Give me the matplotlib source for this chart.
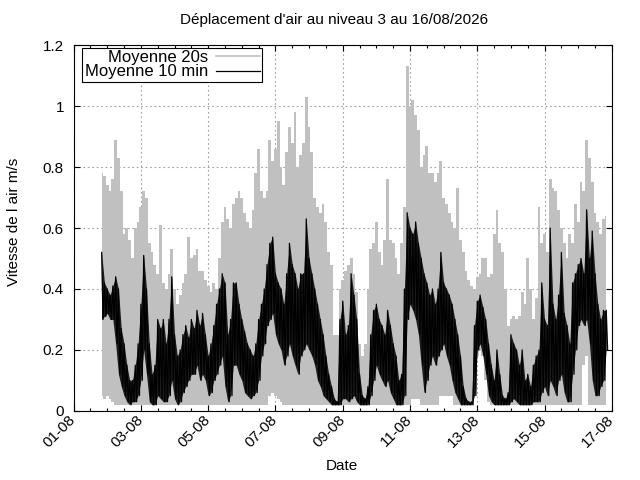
import numpy as np
import matplotlib
matplotlib.use("Agg")
import matplotlib.pyplot as plt
import matplotlib.dates as mdates
from matplotlib.ticker import FuncFormatter

# first sample and sampling step (2 hours) of the envelopes
start = np.datetime64("2026-08-01T20:00")
step = np.timedelta64(2, "h")

# "Moyenne 20s": upper / lower envelope of the grey trace, one value per 2 h
gray_hi = [
    0.78, 0.77, 0.74, 0.72, 0.76, 0.89, 0.83, 0.72, 0.58, 0.60, 0.56, 0.50,
    0.60, 0.62, 0.67, 0.72, 0.70, 0.55, 0.52, 0.48, 0.45, 0.61, 0.42, 0.40,
    0.45, 0.53, 0.40, 0.35, 0.38, 0.42, 0.45, 0.57, 0.50, 0.51, 0.53, 0.46,
    0.46, 0.43, 0.41, 0.39, 0.42, 0.40, 0.50, 0.62, 0.67, 0.63, 0.60, 0.68,
    0.70, 0.72, 0.70, 0.65, 0.62, 0.60, 0.66, 0.78, 0.86, 0.72, 0.70, 0.72,
    0.89, 0.82, 0.86, 0.95, 0.80, 0.74, 0.85, 0.93, 0.88, 0.98, 0.80, 0.84,
    0.88, 1.03, 0.93, 0.85, 0.70, 0.67, 0.65, 0.68, 0.62, 0.52, 0.48, 0.25,
    0.25, 0.40, 0.43, 0.46, 0.48, 0.50, 0.45, 0.39, 0.22, 0.18, 0.22, 0.40,
    0.53, 0.55, 0.62, 0.52, 0.48, 0.56, 0.76, 0.56, 0.55, 0.50, 0.45, 0.55,
    0.67, 1.13, 1.00, 1.02, 0.97, 0.92, 0.80, 0.84, 0.87, 0.78, 0.78, 0.75,
    0.78, 0.82, 0.70, 0.68, 0.65, 0.62, 0.60, 0.73, 0.56, 0.52, 0.46, 0.43,
    0.41, 0.40, 0.44, 0.45, 0.50, 0.50, 0.44, 0.45, 0.58, 0.66, 0.55, 0.52,
    0.40, 0.28, 0.30, 0.31, 0.30, 0.31, 0.39, 0.35, 0.50, 0.40, 0.30, 0.37,
    0.67, 0.55, 0.58, 0.52, 0.76, 0.73, 0.72, 0.66, 0.60, 0.55, 0.50, 0.58,
    0.55, 0.68, 0.62, 0.75, 0.72, 0.89, 0.83, 0.75, 0.65, 0.62, 0.58, 0.63,
    0.64,
]
gray_lo = [
    0.05, 0.04, 0.05, 0.04, 0.03, 0.02, 0.02, 0.02, 0.02, 0.02, 0.02, 0.02,
    0.02, 0.02, 0.02, 0.02, 0.02, 0.02, 0.02, 0.02, 0.02, 0.02, 0.02, 0.02,
    0.02, 0.02, 0.02, 0.02, 0.02, 0.02, 0.02, 0.02, 0.02, 0.02, 0.02, 0.02,
    0.02, 0.02, 0.02, 0.02, 0.02, 0.02, 0.02, 0.02, 0.02, 0.02, 0.02, 0.02,
    0.02, 0.02, 0.02, 0.02, 0.02, 0.02, 0.02, 0.02, 0.02, 0.02, 0.02, 0.02,
    0.05, 0.06, 0.05, 0.04, 0.03, 0.02, 0.02, 0.02, 0.02, 0.02, 0.02, 0.02,
    0.02, 0.02, 0.02, 0.02, 0.02, 0.02, 0.02, 0.02, 0.02, 0.02, 0.02, 0.02,
    0.02, 0.02, 0.02, 0.02, 0.02, 0.02, 0.02, 0.02, 0.02, 0.02, 0.02, 0.02,
    0.02, 0.02, 0.02, 0.02, 0.02, 0.02, 0.02, 0.02, 0.02, 0.02, 0.02, 0.02,
    0.02, 0.02, 0.02, 0.04, 0.04, 0.04, 0.02, 0.02, 0.02, 0.02, 0.02, 0.02,
    0.02, 0.05, 0.05, 0.05, 0.05, 0.05, 0.02, 0.02, 0.02, 0.02, 0.02, 0.02,
    0.02, 0.05, 0.18, 0.20, 0.18, 0.10, 0.03, 0.02, 0.02, 0.02, 0.02, 0.02,
    0.02, 0.02, 0.02, 0.02, 0.02, 0.02, 0.02, 0.02, 0.02, 0.02, 0.02, 0.02,
    0.02, 0.02, 0.02, 0.02, 0.02, 0.02, 0.02, 0.02, 0.02, 0.02, 0.02, 0.02,
    0.02, 0.02, 0.02, 0.02, 0.15, 0.18, 0.02, 0.02, 0.02, 0.02, 0.02, 0.02,
    0.02,
]

# "Moyenne 10 min": upper / lower envelope of the black trace
black_hi = [
    0.52, 0.42, 0.40, 0.38, 0.41, 0.44, 0.40, 0.27, 0.22, 0.15, 0.10, 0.10,
    0.15, 0.22, 0.35, 0.51, 0.40, 0.22, 0.12, 0.15, 0.30, 0.27, 0.30, 0.22,
    0.30, 0.44, 0.25, 0.18, 0.20, 0.25, 0.28, 0.24, 0.30, 0.27, 0.33, 0.28,
    0.32, 0.25, 0.18, 0.22, 0.28, 0.35, 0.40, 0.45, 0.42, 0.25, 0.30, 0.42,
    0.42, 0.35, 0.30, 0.26, 0.22, 0.20, 0.18, 0.22, 0.30, 0.35, 0.40, 0.48,
    0.55, 0.57, 0.45, 0.42, 0.40, 0.35, 0.45, 0.55, 0.48, 0.45, 0.40, 0.45,
    0.45, 0.63, 0.50, 0.45, 0.40, 0.35, 0.30, 0.25, 0.18, 0.12, 0.08, 0.04,
    0.03, 0.30, 0.36, 0.25, 0.28, 0.45, 0.38, 0.30, 0.12, 0.05, 0.04, 0.08,
    0.25, 0.33, 0.35, 0.30, 0.28, 0.25, 0.33, 0.28, 0.22, 0.18, 0.10, 0.12,
    0.40, 0.65, 0.60, 0.58, 0.62, 0.55, 0.50, 0.45, 0.42, 0.38, 0.40, 0.35,
    0.40, 0.52, 0.42, 0.40, 0.38, 0.35, 0.30, 0.25, 0.18, 0.08, 0.04, 0.03,
    0.03, 0.28, 0.36, 0.38, 0.34, 0.30, 0.22, 0.15, 0.10, 0.20, 0.12, 0.05,
    0.04, 0.06, 0.25, 0.22, 0.20, 0.15, 0.20, 0.10, 0.12, 0.08, 0.15, 0.18,
    0.20, 0.42, 0.30, 0.28, 0.60, 0.35, 0.30, 0.38, 0.52, 0.32, 0.28, 0.22,
    0.42, 0.45, 0.48, 0.50, 0.45, 0.66, 0.50, 0.59, 0.45, 0.35, 0.30, 0.33,
    0.33,
]
black_lo = [
    0.30, 0.31, 0.32, 0.30, 0.30, 0.22, 0.12, 0.08, 0.05, 0.03, 0.02, 0.03,
    0.03, 0.05, 0.10, 0.20, 0.12, 0.03, 0.02, 0.02, 0.05, 0.04, 0.03, 0.03,
    0.05, 0.10, 0.04, 0.02, 0.03, 0.06, 0.08, 0.10, 0.12, 0.12, 0.15, 0.10,
    0.12, 0.10, 0.05, 0.06, 0.10, 0.12, 0.15, 0.18, 0.08, 0.03, 0.05, 0.15,
    0.15, 0.12, 0.10, 0.06, 0.05, 0.04, 0.05, 0.06, 0.10, 0.18, 0.22, 0.28,
    0.30, 0.32, 0.25, 0.22, 0.20, 0.15, 0.18, 0.22, 0.18, 0.15, 0.12, 0.18,
    0.20, 0.22, 0.20, 0.18, 0.15, 0.10, 0.08, 0.05, 0.04, 0.03, 0.02, 0.02,
    0.02, 0.02, 0.04, 0.04, 0.03, 0.04, 0.05, 0.03, 0.02, 0.02, 0.02, 0.02,
    0.05, 0.10, 0.15, 0.12, 0.10, 0.08, 0.10, 0.06, 0.04, 0.02, 0.02, 0.02,
    0.05, 0.30, 0.35, 0.33, 0.30, 0.25, 0.15, 0.06, 0.10, 0.15, 0.18, 0.15,
    0.18, 0.20, 0.22, 0.18, 0.15, 0.10, 0.06, 0.04, 0.02, 0.02, 0.02, 0.02,
    0.02, 0.05, 0.20, 0.22, 0.18, 0.12, 0.05, 0.03, 0.02, 0.02, 0.02, 0.02,
    0.02, 0.02, 0.03, 0.04, 0.03, 0.02, 0.02, 0.02, 0.02, 0.02, 0.03, 0.03,
    0.03, 0.06, 0.08, 0.05, 0.10, 0.08, 0.05, 0.10, 0.12, 0.06, 0.03, 0.03,
    0.12, 0.20, 0.28, 0.30, 0.28, 0.30, 0.22, 0.10, 0.05, 0.05, 0.08, 0.10,
    0.20,
]

y_ticks = [0, 0.2, 0.4, 0.6, 0.8, 1.0, 1.2]
title = "Déplacement d'air au niveau 3 au 16/08/2026"


def zigzag(times, hi, lo):
    """Alternate high and low values, one hour apart, like the raw trace."""
    t = np.empty(2 * len(times), dtype="datetime64[m]")
    v = np.empty(2 * len(times))
    t[0::2] = times
    t[1::2] = times + np.timedelta64(1, "h")
    v[0::2] = hi
    v[1::2] = lo
    return t, v


plt.rcParams["font.family"] = ["Liberation Sans", "DejaVu Sans"]
plt.rcParams["font.size"] = 11

times = start + np.arange(len(gray_hi)) * step
gray = "#c0c0c0"

fig = plt.figure(figsize=(6.4, 4.8), dpi=100)
ax = fig.add_axes([0.115, 0.144, 0.841, 0.762])

# grey trace: solid columns between low and high envelope
ax.fill_between(times, gray_lo, gray_hi, step="mid", color=gray, lw=0)
ax.plot([], [], color=gray, lw=1.2, label="Moyenne 20s")

# black trace: band plus the jagged line on top
tb, vb = zigzag(times, black_hi, black_lo)
ax.fill_between(times, black_lo, black_hi, color="black", lw=0, alpha=0.85)
ax.plot(tb, vb, color="black", lw=0.9, label="Moyenne 10 min")

ax.set_xlim(np.datetime64("2026-08-01"), np.datetime64("2026-08-17"))
ax.set_ylim(0, 1.2)
ax.set_yticks(y_ticks)
ax.yaxis.set_major_formatter(FuncFormatter(lambda v, p: f"{v:g}"))
ax.xaxis.set_major_locator(mdates.DayLocator(bymonthday=range(1, 18, 2)))
ax.xaxis.set_minor_locator(mdates.HourLocator(byhour=[0, 12]))
ax.xaxis.set_major_formatter(mdates.DateFormatter("%d-%m"))

ax.set_axisbelow(True)
ax.grid(True, color="#a0a0a0", lw=0.8, linestyle=(0, (1.5, 2.5)))
ax.tick_params(which="both", direction="in", top=True, right=True, width=0.8)
ax.tick_params(which="major", length=4.5)
ax.tick_params(axis="y", pad=7)
ax.tick_params(axis="x", pad=5)
ax.tick_params(which="minor", length=2.5)
for lab in ax.get_xticklabels():
    lab.set_rotation(45)
    lab.set_ha("right")
    lab.set_va("center")
    lab.set_rotation_mode("anchor")
for sp in ax.spines.values():
    sp.set_linewidth(0.8)

leg = ax.legend(loc="upper left", bbox_to_anchor=(0.016, 0.993),
                markerfirst=False, fancybox=False, framealpha=1,
                edgecolor="black", borderaxespad=0, borderpad=0.15,
                fontsize=12, handlelength=2.6, handletextpad=0.5,
                labelspacing=-0.05)
leg.get_frame().set_linewidth(0.8)

fig.text(334 / 640, 1 - 20 / 480, title, ha="center", va="center")
fig.text(14 / 640, 1 - 222 / 480, "Vitesse de l air m/s",
         rotation=90, ha="center", va="center")
fig.text(342 / 640, 1 - 466 / 480, "Date", ha="center", va="center")

fig.savefig("out.png", dpi=100)
